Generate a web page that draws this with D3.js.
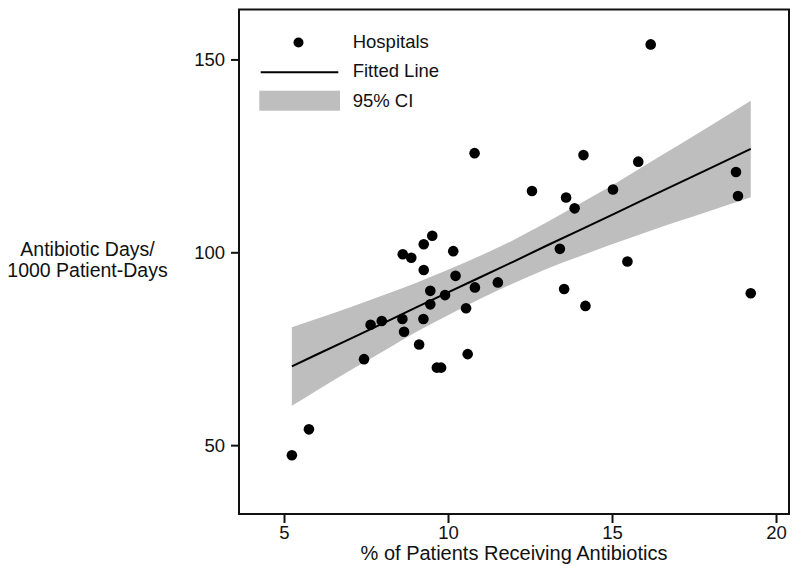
<!DOCTYPE html>
<html>
<head>
<meta charset="utf-8">
<script src="https://cdn.jsdelivr.net/npm/d3@7"></script>
<style>
  body { margin: 0; background: #fff; }
  text { font-family: "Liberation Sans", Arial, Helvetica, sans-serif; fill: #111; }
</style>
</head>
<body>
<svg id="chart" width="800" height="579"></svg>
<script>
// ---- data ----
const hospX = [5.24, 5.76, 7.44, 7.64, 7.98, 8.61, 8.66, 8.62, 8.88, 9.12,
               9.25, 9.26, 9.52, 9.26, 9.46, 9.46, 9.66, 9.79, 9.91, 10.16,
               10.23, 10.55, 10.60, 10.82, 10.81, 11.52, 12.56, 13.41, 13.54, 13.60,
               13.86, 14.13, 14.19, 15.03, 15.47, 15.80, 16.18, 18.78, 18.84, 19.23];
const hospY = [47.4, 54.1, 72.3, 81.2, 82.2, 82.7, 79.4, 99.5, 98.6, 76.1,
               82.7, 102.1, 104.3, 95.4, 90.0, 86.5, 70.1, 70.1, 88.9, 100.3,
               93.9, 85.5, 73.6, 90.9, 125.7, 92.2, 115.9, 100.9, 90.5, 114.2,
               111.4, 125.2, 86.1, 116.3, 97.6, 123.5, 153.9, 120.8, 114.6, 89.4];

const fitX  = [5.24, 6, 7, 8, 9, 10, 11, 12, 13, 14, 15, 16, 17, 18, 19.23];
const fitY  = [70.4, 73.5, 77.5, 81.5, 85.6, 89.6, 93.6, 97.6, 101.7, 105.7, 109.7, 113.8, 117.8, 121.8, 126.8];
const ciLow = [60.2, 64.2, 69.3, 74.2, 79.2, 83.7, 88.0, 92.0, 95.7, 98.9, 102.1, 105.1, 108.0, 110.8, 114.3];
const ciHigh= [80.6, 82.8, 85.7, 88.8, 92.0, 95.5, 99.2, 103.2, 107.7, 112.5, 117.3, 122.5, 127.6, 132.8, 139.3];

const xTicks = [5, 10, 15, 20];
const yTicks = [50, 100, 150];
const xTitle = "% of Patients Receiving Antibiotics";
const yTitle = ["Antibiotic Days/", "1000 Patient-Days"];
const legendLabels = ["Hospitals", "Fitted Line", "95% CI"];

// ---- layout ----
const L = 239, R = 789, T = 9.5, B = 514;
const svg = d3.select("#chart");
const x = d3.scaleLinear().domain([3.628, 20.396]).range([L, R]);
const y = d3.scaleLinear().domain([32.15, 162.95]).range([B, T]);
const grey = "#bebebe";

// CI band
const band = fitX.map((v, i) => ({x: v, lo: ciLow[i], hi: ciHigh[i]}));
svg.append("path")
  .datum(band)
  .attr("fill", grey)
  .attr("d", d3.area().curve(d3.curveMonotoneX)
    .x(d => x(d.x)).y0(d => y(d.lo)).y1(d => y(d.hi)));

// fitted line
const fit = fitX.map((v, i) => ({x: v, y: fitY[i]}));
svg.append("path")
  .datum(fit)
  .attr("fill", "none")
  .attr("stroke", "#000")
  .attr("stroke-width", 2)
  .attr("d", d3.line().x(d => x(d.x)).y(d => y(d.y)));

// points
svg.append("g").selectAll("circle")
  .data(hospX.map((v, i) => ({x: v, y: hospY[i]})))
  .join("circle")
  .attr("cx", d => x(d.x))
  .attr("cy", d => y(d.y))
  .attr("r", 5.3)
  .attr("fill", "#000");

// frame
svg.append("rect")
  .attr("x", L).attr("y", T)
  .attr("width", R - L).attr("height", B - T)
  .attr("fill", "none").attr("stroke", "#111").attr("stroke-width", 2);

// axes
const xAxis = svg.append("g")
  .attr("transform", `translate(0,${B})`)
  .call(d3.axisBottom(x).tickValues(xTicks).tickSize(9).tickPadding(3).tickFormat(d3.format("d")));
const yAxis = svg.append("g")
  .attr("transform", `translate(${L},0)`)
  .call(d3.axisLeft(y).tickValues(yTicks).tickSize(8).tickPadding(6).tickFormat(d3.format("d")));
[xAxis, yAxis].forEach(g => {
  g.select(".domain").remove();
  g.selectAll(".tick line").attr("stroke", "#111").attr("stroke-width", 2);
  g.selectAll(".tick text").style("font-size", "18.5px").attr("fill", "#111");
});

// axis titles
svg.append("text")
  .attr("x", (L + R) / 2).attr("y", 560)
  .attr("text-anchor", "middle")
  .style("font-size", "20px")
  .text(xTitle);
svg.append("text")
  .attr("text-anchor", "middle")
  .style("font-size", "19.5px")
  .selectAll("tspan")
  .data(yTitle)
  .join("tspan")
  .attr("x", 87.5)
  .attr("y", (d, i) => 256 + i * 20.5)
  .text(d => d);

// legend
const lg = svg.append("g");
lg.append("circle").attr("cx", 298.5).attr("cy", 42.5).attr("r", 5).attr("fill", "#000");
lg.append("line").attr("x1", 260.7).attr("x2", 338.3).attr("y1", 72.3).attr("y2", 72.3)
  .attr("stroke", "#000").attr("stroke-width", 2);
lg.append("rect").attr("x", 259.3).attr("y", 90.7).attr("width", 80.7).attr("height", 20)
  .attr("fill", grey);
lg.selectAll("text.lbl")
  .data(legendLabels)
  .join("text")
  .attr("class", "lbl")
  .attr("x", 352.7)
  .attr("y", (d, i) => 47.5 + i * 29.9)
  .style("font-size", "18.5px")
  .text(d => d);
</script>
</body>
</html>
